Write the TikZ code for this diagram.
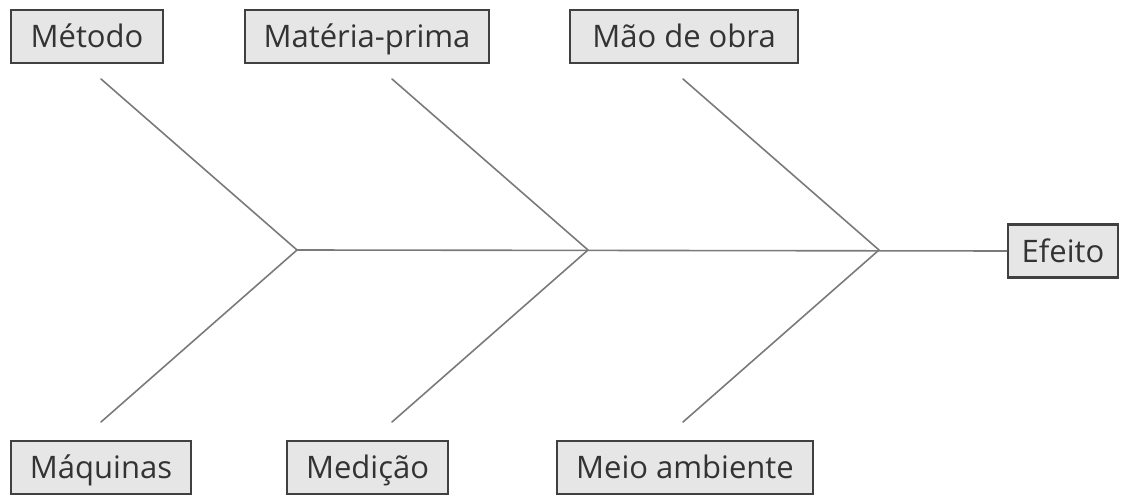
\documentclass[tikz,border=0pt]{standalone}
\usepackage{fontspec}
\setmainfont{Open Sans}
\usepackage{tikz}
\definecolor{ink}{HTML}{333333}
\definecolor{boxfill}{HTML}{E6E6E6}
\definecolor{boxline}{HTML}{404040}
\definecolor{bone}{HTML}{7A7A7A}
\tikzset{
  cause/.style={draw=boxline, fill=boxfill, line width=1.1pt, text=ink,
    font=\fontsize{15.5}{18}\selectfont, inner sep=0pt, minimum height=26.5pt,
    text height=11.5pt, text depth=0pt},
  fish/.style={draw=bone, line width=0.8pt, line cap=round, line join=round},
}
\begin{document}
\begin{tikzpicture}[x=0.5pt,y=-0.5pt]
  \useasboundingbox (0,0) rectangle (1124,496);
  % causes
  \foreach \N/\x/\y/\w/\T in {met/87/36.5/152/Método,mat/367/36.5/244/Matéria-prima,
      mao/684/36.5/228/Mão de obra,maq/101/467.5/180/Máquinas,
      med/367.5/467.5/161/Medição,mei/685/467.5/256/Meio ambiente}
    \node[cause, minimum width=\w*0.5pt] (\N) at (\x,\y) {\T};
  \node[cause, minimum width=55pt] (eff) at (1063,251) {Efeito};
  % junctions and bone ends
  \foreach \J/\x in {1/297,2/588,3/879} {
    \coordinate (J\J) at (\x,250);
    \coordinate (T\J) at ({\x-196},79);
    \coordinate (B\J) at ({\x-196},422);
    \draw[fish] (T\J) -- (J\J) -- (B\J);
  }
  \draw[fish] (J1) -- (eff.west);
\end{tikzpicture}
\end{document}
